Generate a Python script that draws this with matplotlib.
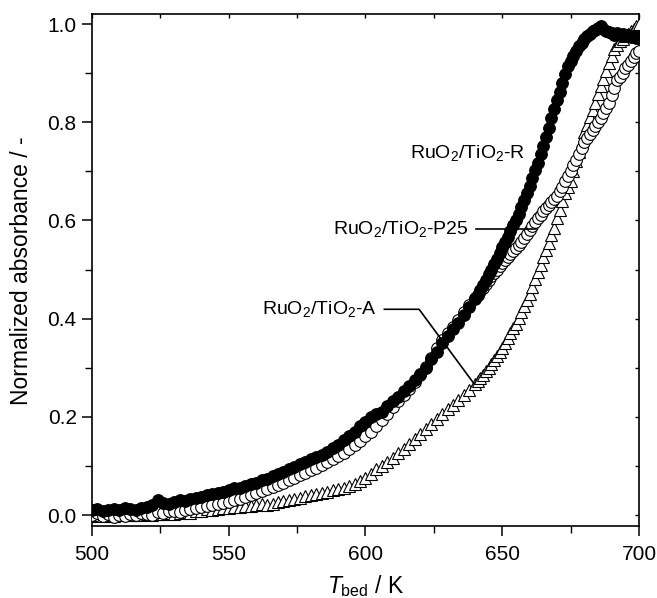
import matplotlib
matplotlib.use("Agg")
import matplotlib.pyplot as plt
import numpy as np

plt.rcParams['font.family'] = ['Liberation Sans', 'DejaVu Sans']
plt.rcParams['mathtext.fontset'] = 'custom'
plt.rcParams['mathtext.rm'] = 'Liberation Sans'
plt.rcParams['mathtext.it'] = 'Liberation Sans:italic'

# Temperature grid (K)
T_low = [500, 502, 504, 506, 508, 510, 512, 514, 516, 518, 520, 522, 524, 526, 528,
         530, 532, 534, 536, 538, 540, 542, 544, 546, 548, 550, 552, 554, 556, 558,
         560, 562, 564, 566, 568, 570, 572, 574, 576, 578, 580, 582, 584, 586, 588,
         590, 592, 594, 596, 598, 600, 602, 604, 606, 608, 610, 612, 614, 616, 618,
         620, 622, 624, 626, 628, 630, 632, 634, 636, 638, 640]
T_high = [641, 642, 643, 644, 645, 646, 647, 648, 649, 650, 651, 652, 653, 654, 655,
          656, 657, 658, 659, 660, 661, 662, 663, 664, 665, 666, 667, 668, 669, 670,
          671, 672, 673, 674, 675, 676, 677, 678, 679, 680, 681, 682, 683, 684, 685,
          686, 687, 688, 689, 690, 691, 692, 693, 694, 695, 696, 697, 698, 699, 700]
T_bed = T_low + T_high

# RuO2/TiO2-R (filled circles)
abs_R = [.010, .012, .008, .011, .013, .010, .014, .012, .011, .015, .016, .020, .030, .024, .022,
         .027, .030, .029, .033, .035, .036, .040, .042, .045, .047, .050, .054, .056, .060, .063,
         .066, .071, .073, .079, .084, .088, .094, .098, .103, .108, .114, .118, .123, .129, .136,
         .143, .152, .160, .170, .181, .190, .200, .205, .210, .222, .232, .240, .252, .262, .274,
         .287, .300, .318, .332, .350, .365, .378, .392, .408, .423, .440,
         .448, .458, .468, .478, .490, .500, .512, .522, .534, .545, .556, .567, .578, .590, .600,
         .614, .628, .642, .655, .670, .686, .702, .717, .735, .752, .770, .789, .808, .826, .845,
         .862, .880, .898, .915, .925, .935, .946, .955, .962, .970, .975, .980, .985, .988, .992,
         .995, .990, .986, .984, .981, .978, .982, .977, .979, .975, .978, .974, .976, .972, .975]

# RuO2/TiO2-P25 (open circles)
abs_P25 = [.000, .004, -.002, .003, -.004, .001, -.003, .002, .000, .004, .003, .001, .006, .004, .008,
           .009, .007, .011, .012, .014, .016, .018, .020, .022, .024, .027, .030, .033, .036, .040,
           .045, .049, .053, .057, .061, .066, .071, .076, .081, .086, .091, .096, .102, .108, .114,
           .120, .127, .135, .143, .151, .160, .170, .181, .193, .206, .219, .232, .244, .257, .270,
           .285, .302, .320, .340, .357, .370, .383, .398, .413, .428, .442,
           .449, .456, .463, .471, .479, .486, .493, .500, .507, .513, .519, .525, .531, .537, .543,
           .550, .557, .564, .572, .580, .589, .597, .605, .612, .619, .625, .631, .637, .643, .650,
           .659, .669, .680, .690, .700, .712, .724, .736, .748, .760, .768, .776, .784, .792, .800,
           .809, .818, .828, .840, .855, .870, .885, .893, .901, .910, .917, .924, .932, .940, .946]

# RuO2/TiO2-A (open triangles)
abs_A = [-.002, .000, -.003, .001, -.002, .000, .002, -.001, .001, .000, .002, .001, .003, .002, .004,
         .003, .005, .006, .005, .008, .009, .012, .010, .013, .014, .015, .017, .016, .019, .018,
         .020, .022, .021, .023, .026, .028, .030, .032, .035, .038, .040, .042, .045, .047, .050,
         .053, .056, .060, .064, .069, .075, .083, .093, .100, .108, .117, .126, .135, .145, .155,
         .165, .175, .185, .195, .205, .215, .224, .234, .244, .255, .266,
         .272, .279, .286, .293, .300, .308, .316, .324, .332, .340, .350, .360, .370, .380, .390,
         .402, .414, .426, .438, .450, .465, .480, .495, .510, .525, .540, .555, .570, .585, .605,
         .622, .640, .655, .668, .680, .700, .720, .740, .760, .780, .795, .810, .825, .840, .857,
         .873, .889, .905, .920, .935, .950, .958, .965, .970, .975, .980, .985, .990, .995, 1.000]

labels = ['RuO$_2$/TiO$_2$-R', 'RuO$_2$/TiO$_2$-P25', 'RuO$_2$/TiO$_2$-A']

fig = plt.figure(figsize=(6.57, 5.98), dpi=100)
ax = fig.add_axes([0.14003, 0.11957, 0.83257, 0.85702])

ms = 8.4
ax.plot(T_bed, abs_A, linestyle='none', marker='^', ms=8.6, mfc='white', mec='black', mew=0.8, zorder=3)
ax.plot(T_bed, abs_P25, linestyle='none', marker='o', ms=ms, mfc='white', mec='black', mew=0.8, zorder=4)
ax.plot(T_bed, abs_R, linestyle='none', marker='o', ms=ms, mfc='black', mec='black', mew=0.8, zorder=5)

ax.set_xlim(500, 700)
ax.set_ylim(-0.0234, 1.0204)
ax.set_xticks([500, 550, 600, 650, 700])
ax.set_xticks([525, 575, 625, 675], minor=True)
ax.set_yticks([0.0, 0.2, 0.4, 0.6, 0.8, 1.0])
ax.set_yticks([0.1, 0.3, 0.5, 0.7, 0.9], minor=True)
ax.set_yticklabels(['0.0', '0.2', '0.4', '0.6', '0.8', '1.0'])

for s in ax.spines.values():
    s.set_linewidth(1.2)

ax.tick_params(axis='both', which='major', labelsize=15, width=1.1, length=7, direction='out')
ax.tick_params(axis='both', which='minor', width=1.0, length=5, direction='out')
ax.tick_params(axis='x', which='major', pad=6)
ax.tick_params(axis='y', which='major', pad=4)
# inward ticks on top and right
ax2 = ax.secondary_xaxis('top')
ax2.set_xticks([500, 550, 600, 650, 700])
ax2.set_xticks([525, 575, 625, 675], minor=True)
ax2.tick_params(which='both', direction='in', length=3, width=1.0, labeltop=False)
ax2.spines['top'].set_visible(False)
ax3 = ax.secondary_yaxis('right')
ax3.set_yticks([0.0, 0.2, 0.4, 0.6, 0.8, 1.0])
ax3.set_yticks([0.1, 0.3, 0.5, 0.7, 0.9], minor=True)
ax3.tick_params(which='both', direction='in', length=3, width=1.0, labelright=False)
ax3.spines['right'].set_visible(False)

ax.set_ylabel('Normalized absorbance / -', fontsize=16.5)
ax.yaxis.set_label_coords(-0.128, 0.5)
ax.yaxis.label.set_verticalalignment('center')
ax.set_xlabel(r'$T_{\mathrm{bed}}$ / K', fontsize=16.5)
ax.xaxis.set_label_coords(0.5, -0.13)
ax.xaxis.label.set_verticalalignment('baseline')

# labels and leader lines
ax.text(658.5, 0.737, labels[0], fontsize=14, ha='right', va='center')
ax.text(637.8, 0.583, labels[1], fontsize=14, ha='right', va='center')
ax.plot([640.4, 662.2], [0.583, 0.583], color='black', lw=1.2, zorder=6)
ax.text(604.0, 0.419, labels[2], fontsize=14, ha='right', va='center')
ax.plot([606.9, 619.6, 639.6], [0.419, 0.419, 0.268], color='black', lw=1.2, zorder=6)

fig.savefig('out.png', dpi=100)
